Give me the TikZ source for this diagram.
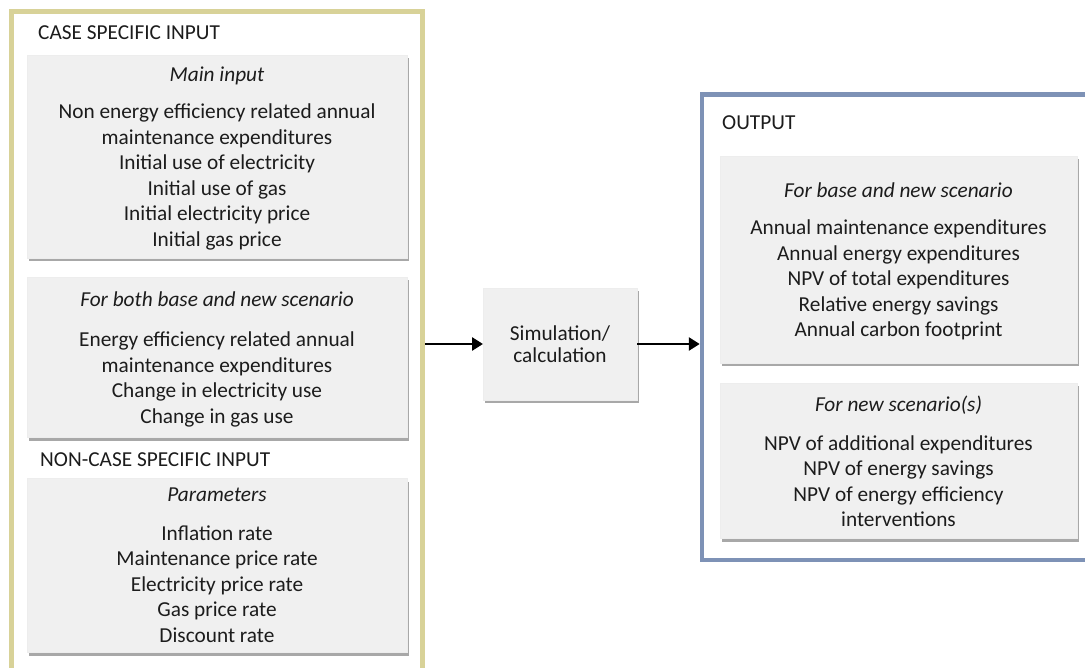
\documentclass[tikz,border=0pt]{standalone}
\usepackage{fontspec}
\setmainfont{Carlito}
\usetikzlibrary{shadows,arrows.meta}
\definecolor{khaki}{RGB}{216,210,152}
\definecolor{steel}{RGB}{126,146,182}
\definecolor{boxgray}{RGB}{240,240,240}
\definecolor{txt}{RGB}{28,28,28}
\begin{document}
\begin{tikzpicture}[x=1pt,y=-1pt,
  graybox/.style={draw=black!7, fill=boxgray, inner sep=0pt, outer sep=0pt, anchor=north west,
    drop shadow={shadow xshift=1.5pt,shadow yshift=-3.5pt,opacity=0.45,fill=black!75}},
  frame/.style={line width=4.5pt, inner sep=0pt, outer sep=0pt, anchor=north west},
  tx/.style={font=\fontsize{21.3}{25.5}\selectfont, text=txt, inner sep=0pt, align=center, anchor=base},
  ttl/.style={tx, font=\fontsize{21.3}{25.5}\selectfont\itshape},
  head/.style={font=\fontsize{21.3}{25.5}\selectfont, text=txt, inner sep=0pt, anchor=base west},
  arr/.style={line width=2.7pt, -{Triangle[length=11pt,width=13pt]}, black}
]
\useasboundingbox (0,0) rectangle (1085,668);
\clip (0,0) rectangle (1085,668);
\fill[white] (0,0) rectangle (1085,668);

% outer frames
\node[frame, draw=khaki, minimum width=411pt, minimum height=700pt] (inframe) at (11.5,11.5) {};
\node[frame, draw=steel, minimum width=400pt, minimum height=465.5pt] (outframe) at (702,94.5) {};

% gray boxes
\node[graybox, minimum width=380pt, minimum height=203pt] (mainbox) at (27,55) {};
\node[graybox, minimum width=380pt, minimum height=160pt] (bothbox) at (27,277) {};
\node[graybox, minimum width=380pt, minimum height=174pt] (parbox) at (27,478) {};
\node[graybox, minimum width=154pt, minimum height=112pt] (sim) at (483,288) {};
\node[graybox, minimum width=357pt, minimum height=207pt] (out1) at (720,156) {};
\node[graybox, minimum width=357pt, minimum height=155pt] (out2) at (720,383) {};

% headings
\node[head] (h1) at (38,40) {CASE SPECIFIC INPUT};
\node[head] (h2) at (40,466.7) {NON-CASE SPECIFIC INPUT};
\node[head] (h3) at (722,130) {OUTPUT};

% titles
\node[ttl] (t1) at (217,81.7) {Main input};
\node[ttl] (t2) at (217,306.7) {For both base and new scenario};
\node[ttl] (t3) at (217,501.7) {Parameters};
\node[ttl] (t4) at (898.5,198) {For base and new scenario};
\node[ttl] (t5) at (898.5,412) {For new scenario(s)};

% lists (anchor base = baseline of the last line)
\node[tx] (l1) at (217,246.5) {Non energy efficiency related annual\\maintenance expenditures\\Initial use of electricity\\Initial use of gas\\Initial electricity price\\Initial gas price};
\node[tx] (l2) at (217,423.2) {Energy efficiency related annual\\maintenance expenditures\\Change in electricity use\\Change in gas use};
\node[tx] (l3) at (217,642) {Inflation rate\\Maintenance price rate\\Electricity price rate\\Gas price rate\\Discount rate};
\node[tx] (l4) at (898.5,337) {Annual maintenance expenditures\\Annual energy expenditures\\NPV of total expenditures\\Relative energy savings\\Annual carbon footprint};
\node[tx] (l5) at (898.5,526.5) {NPV of additional expenditures\\NPV of energy savings\\NPV of energy efficiency\\interventions};
\node[tx, font=\fontsize{21.3}{23}\selectfont] (st) at (560,363) {Simulation/\\calculation};

% arrows
\draw[arr] ([xshift=2.25pt]sim.west -| inframe.east) -- (sim.west);
\draw[arr] (sim.east) -- ([xshift=-2.25pt]sim.east -| outframe.west);
\end{tikzpicture}
\end{document}
